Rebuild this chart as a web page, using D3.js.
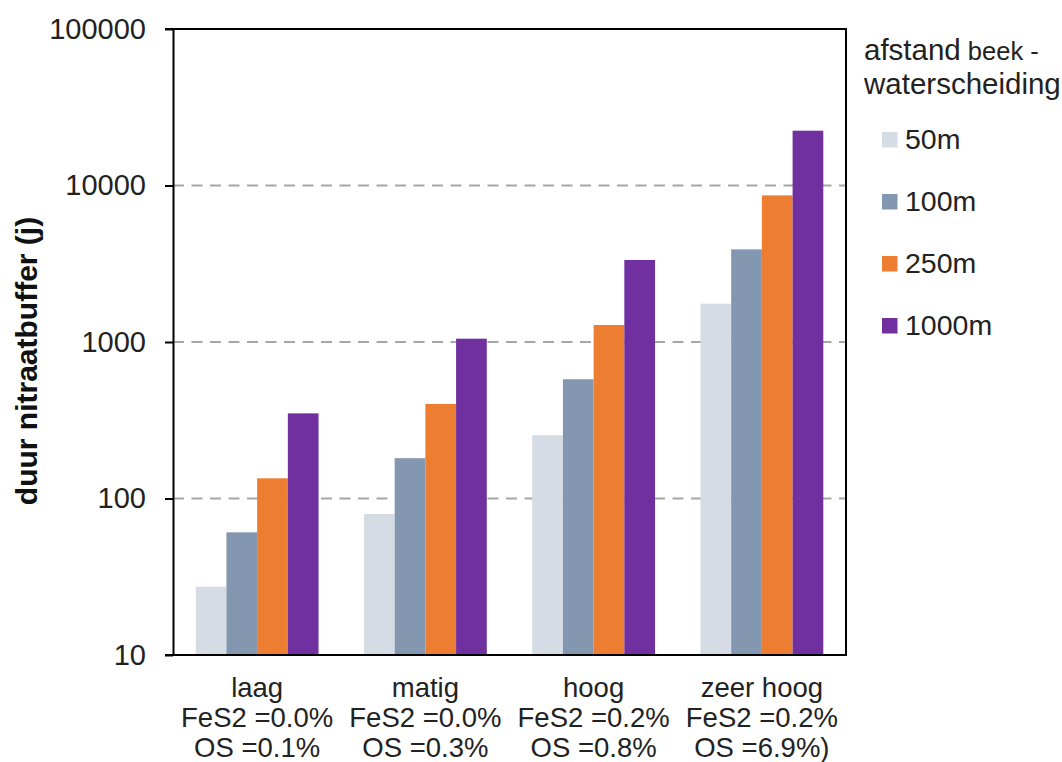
<!DOCTYPE html>
<html>
<head>
<meta charset="utf-8">
<script src="https://cdn.jsdelivr.net/npm/d3@7"></script>
<style>
  html, body { margin: 0; padding: 0; background: #fff; }
  svg { display: block; font-family: "Liberation Sans", Arial, sans-serif; }
</style>
</head>
<body>
<svg id="chart" width="1062" height="762"></svg>
<script>
// ---- data ----
const categories = ["laag", "matig", "hoog", "zeer hoog"];
const categoryLine2 = ["FeS2 =0.0%", "FeS2 =0.0%", "FeS2 =0.2%", "FeS2 =0.2%"];
const categoryLine3 = ["OS =0.1%", "OS =0.3%", "OS =0.8%", "OS =6.9%)"];
const series = ["50m", "100m", "250m", "1000m"];
const values50 = [27.3, 79.6, 254, 1757];
const values100 = [60.8, 181, 578, 3909];
const values250 = [134.6, 402, 1284, 8650];
const values1000 = [350, 1050, 3342, 22400];
const seriesColors = ["#d6dce5", "#8497b0", "#ed7d31", "#7030a0"];
const yTicks = [10, 100, 1000, 10000, 100000];
const yTickLabels = ["10", "100", "1000", "10000", "100000"];
const gridValues = [100, 1000, 10000];
const yTitle = "duur nitraatbuffer (j)";
const legendTitle1a = "afstand";
const legendTitle1b = "beek -";
const legendTitle2 = "waterscheiding";

const allValues = [values50, values100, values250, values1000];

// ---- layout ----
const svg = d3.select("#chart");
const L = 173, R = 846, T = 29, B = 655;

const x = d3.scaleBand().domain(categories).range([L, R]).paddingInner(0.27).paddingOuter(0.135);
const xs = d3.scaleBand().domain(series).range([0, x.bandwidth()]).padding(0);
const y = d3.scaleLog().domain([10, 100000]).range([B, T]);

// gridlines
svg.append("g").selectAll("line").data(gridValues).join("line")
  .attr("x1", L).attr("x2", R)
  .attr("y1", d => y(d)).attr("y2", d => y(d))
  .attr("stroke", "#a6a6a6").attr("stroke-width", 2)
  .attr("stroke-dasharray", "11,7.5");

// bars
const rows = [];
categories.forEach((c, i) => series.forEach((s, j) => rows.push({ c, s, j, v: allValues[j][i] })));
svg.append("g").selectAll("rect").data(rows).join("rect")
  .attr("x", d => x(d.c) + xs(d.s))
  .attr("width", xs.bandwidth())
  .attr("y", d => y(d.v))
  .attr("height", d => B - y(d.v))
  .attr("fill", d => seriesColors[d.j]);

// frame (top & right)
svg.append("line").attr("x1", L - 8).attr("x2", R + 1).attr("y1", T).attr("y2", T)
  .attr("stroke", "#000").attr("stroke-width", 2);
svg.append("line").attr("x1", R).attr("x2", R).attr("y1", T).attr("y2", B)
  .attr("stroke", "#000").attr("stroke-width", 2);

// y axis
const yAxis = d3.axisLeft(y).tickValues(yTicks).tickSize(8).tickSizeOuter(0)
  .tickFormat((d, i) => yTickLabels[i]).tickPadding(19);
const gy = svg.append("g").attr("transform", `translate(${L},0)`).call(yAxis);
gy.select(".domain").attr("stroke", "#000").attr("stroke-width", 2);
gy.selectAll(".tick line").attr("stroke", "#000").attr("stroke-width", 2);
gy.selectAll(".tick text").attr("font-size", 29).attr("fill", "#222")
  .attr("font-family", "Liberation Sans, Arial, sans-serif");

// x axis
const xAxis = d3.axisBottom(x).tickSize(0).tickSizeOuter(0).tickFormat("");
const gx = svg.append("g").attr("transform", `translate(0,${B})`).call(xAxis);
gx.select(".domain").attr("stroke", "#000").attr("stroke-width", 2)
  .attr("d", `M${L - 8},0H${R + 1}`);

// category labels
const catG = svg.append("g").attr("font-size", 27.5).attr("fill", "#222").attr("text-anchor", "middle");
categories.forEach((c, i) => {
  const cx = x(c) + x.bandwidth() / 2;
  const t = catG.append("text").attr("x", cx);
  t.append("tspan").attr("x", cx).attr("y", 697).text(c);
  t.append("tspan").attr("x", cx).attr("y", 727).text(categoryLine2[i]);
  t.append("tspan").attr("x", cx).attr("y", 757).text(categoryLine3[i]);
});

// y title
svg.append("text")
  .attr("transform", "translate(37,361) rotate(-90)")
  .attr("text-anchor", "middle")
  .attr("font-size", 30).attr("font-weight", "bold").attr("fill", "#111")
  .text(yTitle);

// legend
const lg = svg.append("g").attr("fill", "#222");
const lt = lg.append("text").attr("x", 864).attr("y", 60);
lt.append("tspan").attr("font-size", 29.5).text(legendTitle1a);
lt.append("tspan").attr("font-size", 25.5).text(" " + legendTitle1b);
lg.append("text").attr("x", 864).attr("y", 94).attr("font-size", 29.5).text(legendTitle2);

const legendY = d3.scalePoint().domain(series).range([140, 326]);
series.forEach((s, j) => {
  lg.append("rect").attr("x", 882).attr("y", legendY(s) - 8).attr("width", 15.5).attr("height", 15.5)
    .attr("fill", seriesColors[j]);
  lg.append("text").attr("x", 905).attr("y", legendY(s) + 8.5).attr("font-size", 28.5).text(s);
});
</script>
</body>
</html>
